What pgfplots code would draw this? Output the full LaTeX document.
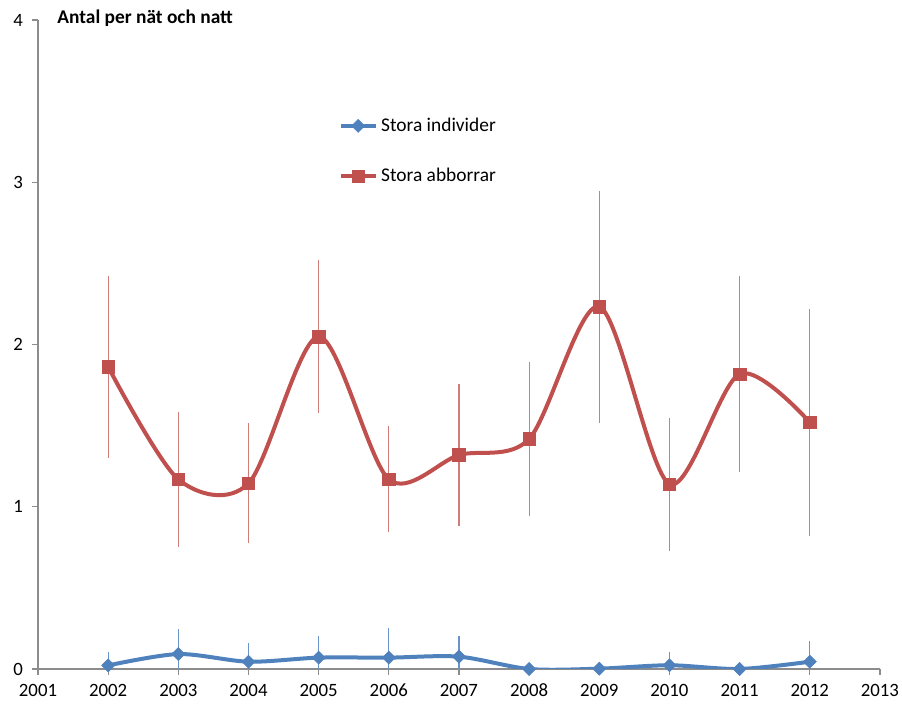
\documentclass[border=0pt]{standalone}
\usepackage{pgfplots}
\pgfplotsset{compat=1.18}
\usepackage{pgfplotstable}
\usepackage{fontspec}
\setmainfont{Carlito}
\definecolor{exblue}{HTML}{4F81BD}
\definecolor{exred}{HTML}{C0504D}
\pgfplotstableread{
x y ep em
2002 1.862 0.56 0.56
2003 1.169 0.415 0.415
2004 1.144 0.37 0.37
2005 2.048 0.47 0.47
2006 1.169 0.326 0.326
2007 1.319 0.436 0.436
2008 1.418 0.476 0.476
2009 2.233 0.716 0.716
2010 1.140 0.41 0.41
2011 1.818 0.604 0.604
2012 1.520 0.70 0.70
}\redtab
\pgfplotstableread{
x y ep em
2002 0.022 0.085 0.022
2003 0.092 0.154 0.092
2004 0.045 0.117 0.045
2005 0.070 0.135 0.070
2006 0.070 0.184 0.070
2007 0.076 0.129 0.076
2008 0.000 0.000 0.000
2009 0.002 0.000 0.000
2010 0.023 0.084 0.023
2011 0.000 0.000 0.000
2012 0.045 0.127 0.045
}\bluetab
\begin{document}
\begin{tikzpicture}
\path[use as bounding box] (-19pt,-18.5pt) rectangle (432pt,334.5pt);
\begin{axis}[
 at={(0,0)}, anchor=south west,
 scale only axis, width=421pt, height=324.5pt,
 xmin=2001, xmax=2013, ymin=0, ymax=4,
 clip mode=individual,
 axis x line=bottom, axis y line=left,
 axis line style={-, color=black!45, line width=0.6pt},
 xtick={2001,...,2013}, ytick={0,1,2,3,4},
 tick align=outside, major tick length=3pt,
 tick style={black!45, line width=0.6pt},
 /pgf/number format/assume math mode=true,
 xticklabel style={/pgf/number format/1000 sep={}, yshift=-1pt},
 yticklabel style={xshift=-1pt},
 ticklabel style={font=\fontsize{9.4}{11}\selectfont},
 legend style={at={(axis cs:2005.2,3.45)}, anchor=north west, draw=none, fill=none,
   row sep=13pt, font=\fontsize{9.7}{11}\selectfont,
   /tikz/every even column/.style={column sep=0pt}},
 legend cell align=left,
 error bars/y dir=both, error bars/y explicit,
 error bars/error mark=none,
]
\addplot[exblue, line width=2pt, smooth, mark=square*, mark size=2.3pt,
  mark options={solid, line width=0.3pt, rotate=45},
  error bars/error bar style={exblue!85, line width=0.65pt}]
  table[x=x, y=y, y error plus=ep, y error minus=em] {\bluetab};
\addlegendentry{Stora individer}
\addplot[exred, line width=2pt, smooth, mark=square*, mark size=3.1pt,
  mark options={solid, line width=0.3pt},
  error bars/error bar style={exred!75, line width=0.65pt}]
  table[x=x, y=y, y error plus=ep, y error minus=em] {\redtab};
\addlegendentry{Stora abborrar}
\end{axis}
\node[anchor=west, font=\bfseries\fontsize{9.7}{11}\selectfont, inner sep=0pt]
  at (9.5pt,325.5pt) {Antal per nät och natt};
\end{tikzpicture}
\end{document}
